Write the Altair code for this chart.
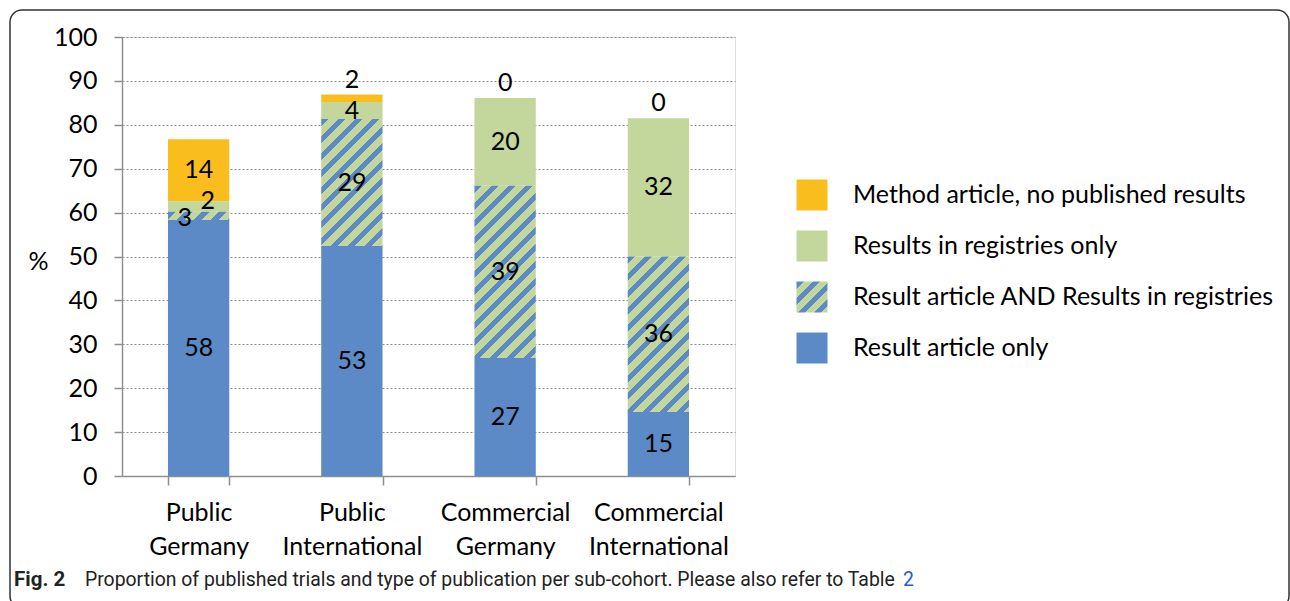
import altair as alt
import pandas as pd

# ---------------- data ----------------
CATEGORIES = ["Public Germany", "Public International", "Commercial Germany", "Commercial International"]

SERIES = [
    "Result article only",
    "Result article AND Results in registries",
    "Results in registries only",
    "Method article, no published results",
]

RESULT_ONLY = [58.3, 52.4, 26.9, 14.6]
RESULT_AND_REGISTRY = [1.9, 28.9, 39.2, 35.4]
REGISTRY_ONLY = [2.4, 3.9, 20.0, 31.5]
METHOD_ONLY = [14.1, 1.7, 0.0, 0.0]

RESULT_ONLY_LABELS = ["58", "53", "27", "15"]
RESULT_AND_REGISTRY_LABELS = ["3", "29", "39", "36"]
REGISTRY_ONLY_LABELS = ["2", "4", "20", "32"]
METHOD_ONLY_LABELS = ["14", "2", "0", "0"]

Y_TICKS = [0, 10, 20, 30, 40, 50, 60, 70, 80, 90, 100]

LEGEND_ORDER = [
    "Method article, no published results",
    "Results in registries only",
    "Result article AND Results in registries",
    "Result article only",
]

CAPTION_BOLD = "Fig. 2"
CAPTION_TEXT = "Proportion of published trials and type of publication per sub-cohort. Please also refer to Table"
CAPTION_LINK = "2"

# ---------------- styles ----------------
BLUE = "#5B8AC6"
GREEN = "#C3D69B"
ORANGE = "#F9BE1E"
SERIES_COLORS = {SERIES[0]: BLUE, SERIES[2]: GREEN, SERIES[3]: ORANGE}
FONT = "Lato"
FS = 25
CAP_FONT = "Roboto"
CAP_FS = 19.4

W, H = 613, 439
PAD_L, PAD_T = 122, 37
PAD_INNER = 0.6
BAND_W = W / len(CATEGORIES) * (1 - PAD_INNER)
HATCH_PERIOD = 17.0
HATCH_FRAC = 0.45

# label nudges (pixel offsets) for the crowded small segments of the first bar
NUDGES = {
    ("Public Germany", SERIES[1]): (-14, 2),
    ("Public Germany", SERIES[2]): (9, -5),
}


def hatch(w, h, period=HATCH_PERIOD, frac=HATCH_FRAC):
    """Diagonal stripes as a hard-stop linear gradient in bounding-box units."""
    L = w + h
    d = w * w + h * h
    x2 = w * L / d
    y2 = h * L / d
    stops = []
    k = 0
    while k * period < L:
        t0 = k * period / L
        t1 = min((k * period + frac * period) / L, 1.0)
        t2 = min((k + 1) * period / L, 1.0)
        stops += [
            {"offset": t0, "color": BLUE},
            {"offset": t1, "color": BLUE},
            {"offset": t1, "color": GREEN},
            {"offset": t2, "color": GREEN},
        ]
        k += 1
    return {"gradient": "linear", "x1": 0, "y1": 0, "x2": x2, "y2": y2, "stops": stops}


# ---------------- build table ----------------
values = [RESULT_ONLY, RESULT_AND_REGISTRY, REGISTRY_ONLY, METHOD_ONLY]
labels = [RESULT_ONLY_LABELS, RESULT_AND_REGISTRY_LABELS, REGISTRY_ONLY_LABELS, METHOD_ONLY_LABELS]
rows = []
for ci, cat in enumerate(CATEGORIES):
    start = 0.0
    for si, s in enumerate(SERIES):
        v = values[si][ci]
        end = start + v
        ly = (start + end) / 2
        if si == 3 and v < 5:
            ly = end + 3.4
        rows.append({"cat": cat, "series": s, "start": start, "end": end,
                     "value": v, "label": labels[si][ci], "label_y": ly})
        start = end
df = pd.DataFrame(rows)

x_scale = alt.Scale(domain=CATEGORIES, paddingInner=PAD_INNER, paddingOuter=PAD_INNER / 2)
y_scale = alt.Scale(domain=[0, 100], nice=False, zero=True)

x_axis = alt.Axis(
    title=None, labelAngle=0,
    labelExpr="isValid(datum.value) ? split(datum.value, ' ') : ''",
    labelFont=FONT, labelFontSize=FS, labelColor="black", labelLineHeight=34,
    labelBaseline="top", labelPadding=15, labelLimit=400,
    tickBand="extent", tickSize=9, tickColor="#8f8f8f", tickWidth=1.5,
    domainColor="#8f8f8f", domainWidth=1.5, grid=False,
)
y_axis = alt.Axis(
    title="%", titleAngle=0, titleX=-84, titleY=224, titleAlign="center",
    titleBaseline="middle", titleFont=FONT, titleFontSize=FS, titleFontWeight="normal",
    titleColor="black",
    values=Y_TICKS, labelFont=FONT, labelFontSize=FS, labelColor="black",
    labelPadding=17, tickSize=8, tickColor="#8f8f8f", tickWidth=1.5,
    domainColor="#8f8f8f", domainWidth=1.5,
    grid=True, gridColor="#8a8a8a", gridDash=[2, 2], gridWidth=1.2,
)

X = alt.X("cat:N", scale=x_scale, axis=x_axis, sort=CATEGORIES)

one = pd.DataFrame({"k": [0]})

frame = alt.Chart(one).mark_rect(
    fill="transparent", stroke="#333333", strokeWidth=1.5, cornerRadius=12
).encode(x=alt.value(10 - PAD_L), x2=alt.value(1289 - PAD_L),
         y=alt.value(10 - PAD_T), y2=alt.value(608 - PAD_T))

solid = alt.Chart(df).transform_filter(
    alt.datum.series != SERIES[1]
).mark_bar().encode(
    x=X,
    y=alt.Y("start:Q", scale=y_scale, axis=y_axis),
    y2="end:Q",
    color=alt.Color("series:N", scale=alt.Scale(domain=list(SERIES_COLORS.keys()),
                                                range=list(SERIES_COLORS.values())), legend=None),
)

hatched_layers = []
for ci, cat in enumerate(CATEGORIES):
    h_px = RESULT_AND_REGISTRY[ci] * H / 100.0
    hatched_layers.append(
        alt.Chart(df).transform_filter(
            (alt.datum.series == SERIES[1]) & (alt.datum.cat == cat)
        ).mark_bar(fill=hatch(BAND_W, h_px)).encode(
            x=X, y=alt.Y("start:Q", scale=y_scale, axis=y_axis), y2="end:Q"
        )
    )

text_style = dict(font=FONT, fontSize=FS, color="black", baseline="middle", align="center")

nudge_filter = None
for (cat, s) in NUDGES:
    cond = (alt.datum.cat == cat) & (alt.datum.series == s)
    nudge_filter = cond if nudge_filter is None else (nudge_filter | cond)

labels_main = alt.Chart(df).transform_filter(~nudge_filter).mark_text(**text_style).encode(
    x=X, y=alt.Y("label_y:Q", scale=y_scale, axis=y_axis), text="label:N"
)
nudge_layers = []
for (cat, s), (dx, dy) in NUDGES.items():
    nudge_layers.append(
        alt.Chart(df).transform_filter(
            (alt.datum.cat == cat) & (alt.datum.series == s)
        ).mark_text(dx=dx, dy=dy, **text_style).encode(
            x=X, y=alt.Y("label_y:Q", scale=y_scale, axis=y_axis), text="label:N"
        )
    )

cap_bold = alt.Chart(one).mark_text(
    text=CAPTION_BOLD, font=CAP_FONT, fontSize=20.5, fontWeight="bold",
    align="left", baseline="middle", color="#222222"
).encode(x=alt.value(14 - PAD_L), y=alt.value(580 - PAD_T))
cap_text = alt.Chart(one).mark_text(
    text=CAPTION_TEXT, font=CAP_FONT, fontSize=CAP_FS, align="left",
    baseline="middle", color="#222222"
).encode(x=alt.value(85 - PAD_L), y=alt.value(580 - PAD_T))
cap_link = alt.Chart(one).mark_text(
    text=CAPTION_LINK, font=CAP_FONT, fontSize=CAP_FS, align="left",
    baseline="middle", color="#1F5BD6"
).encode(x=alt.value(903 - PAD_L), y=alt.value(580 - PAD_T))

main = alt.layer(frame, solid, *hatched_layers, labels_main, *nudge_layers,
                 cap_bold, cap_text, cap_link)

# ---------------- legend ----------------
leg_df = pd.DataFrame({"item": LEGEND_ORDER})
leg_y = alt.Y("item:N", scale=alt.Scale(type="point", domain=LEGEND_ORDER,
                                        range=[195 - PAD_T, 348 - PAD_T], padding=0), axis=None)
leg_solid = alt.Chart(leg_df).transform_filter(
    alt.datum.item != SERIES[1]
).mark_square(size=31 * 31, filled=True, opacity=1).encode(
    x=alt.value(812 - PAD_L), y=leg_y,
    color=alt.Color("item:N", scale=alt.Scale(domain=list(SERIES_COLORS.keys()),
                                              range=list(SERIES_COLORS.values())), legend=None),
)
leg_hatch = alt.Chart(leg_df).transform_filter(
    alt.datum.item == SERIES[1]
).mark_square(size=31 * 31, filled=True, opacity=1, fill=hatch(31, 31, period=16)).encode(
    x=alt.value(812 - PAD_L), y=leg_y,
)
leg_text = alt.Chart(leg_df).mark_text(
    font=FONT, fontSize=FS, color="black", align="left", baseline="middle"
).encode(x=alt.value(853 - PAD_L), y=leg_y, text="item:N")

legend = alt.layer(leg_solid, leg_hatch, leg_text)

chart = alt.layer(main, legend).resolve_scale(
    y="independent", x="independent", color="independent"
).properties(
    width=W, height=H, autosize="none",
    padding={"left": PAD_L, "top": PAD_T, "right": 1290 - PAD_L - W, "bottom": 601 - PAD_T - H},
).configure_view(stroke=None).configure(background="white")

chart.save("out.html", embed_options={"renderer": "svg", "actions": False})
